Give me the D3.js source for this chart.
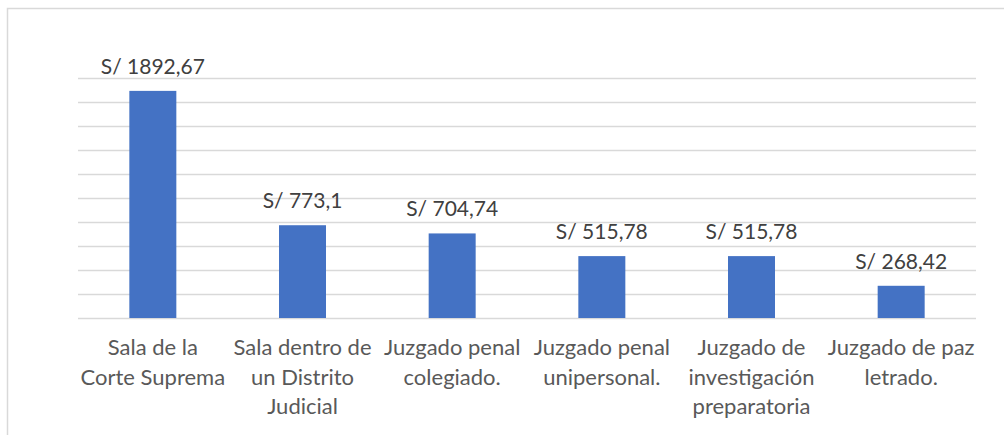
<!DOCTYPE html>
<html>
<head>
<meta charset="utf-8">
<script src="https://cdn.jsdelivr.net/npm/d3@7"></script>
<style>
  html, body { margin: 0; padding: 0; background: #fff; }
  svg { display: block; }
</style>
</head>
<body>
<div id="chart"></div>
<script>
// datos del grafico
var categories = [
    ["Sala de la", "Corte Suprema"],
    ["Sala dentro de", "un Distrito", "Judicial"],
    ["Juzgado penal", "colegiado."],
    ["Juzgado penal", "unipersonal."],
    ["Juzgado de", "investigación", "preparatoria"],
    ["Juzgado de paz", "letrado."]
];
var values = [1892.67, 773.1, 704.74, 515.78, 515.78, 268.42];
var valueLabels = ["S/ 1892,67", "S/ 773,1", "S/ 704,74", "S/ 515,78", "S/ 515,78", "S/ 268,42"];
var gridTicks = [0, 200, 400, 600, 800, 1000, 1200, 1400, 1600, 1800, 2000];

var width = 1004;
var height = 435;
var margin = { top: 78, right: 28, bottom: 117, left: 78 };
var innerW = width - margin.left - margin.right;
var innerH = height - margin.top - margin.bottom;

var svg = d3.select("#chart")
    .append("svg")
    .attr("width", width)
    .attr("height", height);

// borde del area del grafico
svg.append("rect")
    .attr("x", 7.5)
    .attr("y", 8.5)
    .attr("width", 1020)
    .attr("height", 460)
    .attr("fill", "none")
    .attr("stroke", "#d9d9d9")
    .attr("stroke-width", 1.5);

var g = svg.append("g")
    .attr("transform", "translate(" + margin.left + "," + margin.top + ")");

var idx = d3.range(values.length);

var x = d3.scaleBand()
    .domain(idx)
    .range([0, innerW])
    .paddingInner(0.686)
    .paddingOuter(0.343);

var y = d3.scaleLinear()
    .domain([0, 2000])
    .range([innerH, 0]);

// lineas de cuadricula
g.selectAll("line.grid")
    .data(gridTicks)
    .enter()
    .append("line")
    .attr("class", "grid")
    .attr("x1", 0)
    .attr("x2", innerW)
    .attr("y1", function (d) { return Math.round(y(d)) + 0.5; })
    .attr("y2", function (d) { return Math.round(y(d)) + 0.5; })
    .attr("stroke", "#d9d9d9")
    .attr("stroke-width", 1.3);

// barras
g.selectAll("rect.bar")
    .data(idx)
    .enter()
    .append("rect")
    .attr("class", "bar")
    .attr("x", function (i) { return x(i); })
    .attr("y", function (i) { return y(values[i]); })
    .attr("width", x.bandwidth())
    .attr("height", function (i) { return y(0) - y(values[i]); })
    .attr("fill", "#4472c4");

// etiquetas de valor
g.selectAll("text.val")
    .data(idx)
    .enter()
    .append("text")
    .attr("class", "val")
    .attr("x", function (i) { return x(i) + x.bandwidth() / 2; })
    .attr("y", function (i) { return y(values[i]) - 17; })
    .attr("text-anchor", "middle")
    .style("font-family", "Lato, 'Open Sans', sans-serif")
    .style("font-size", "21px")
    .style("fill", "#404040")
    .text(function (i) { return valueLabels[i]; });

// etiquetas de categoria
var cat = g.selectAll("text.cat")
    .data(idx)
    .enter()
    .append("text")
    .attr("class", "cat")
    .attr("text-anchor", "middle")
    .attr("transform", function (i) {
        return "translate(" + (x(i) + x.bandwidth() / 2) + "," + (innerH + 37) + ")";
    })
    .style("font-family", "Lato, 'Open Sans', sans-serif")
    .style("font-size", "22px")
    .style("fill", "#595959");

cat.selectAll("tspan")
    .data(function (i) { return categories[i]; })
    .enter()
    .append("tspan")
    .attr("x", 0)
    .attr("y", function (d, k) { return k * 29.5; })
    .text(function (d) { return d; });
</script>
</body>
</html>
